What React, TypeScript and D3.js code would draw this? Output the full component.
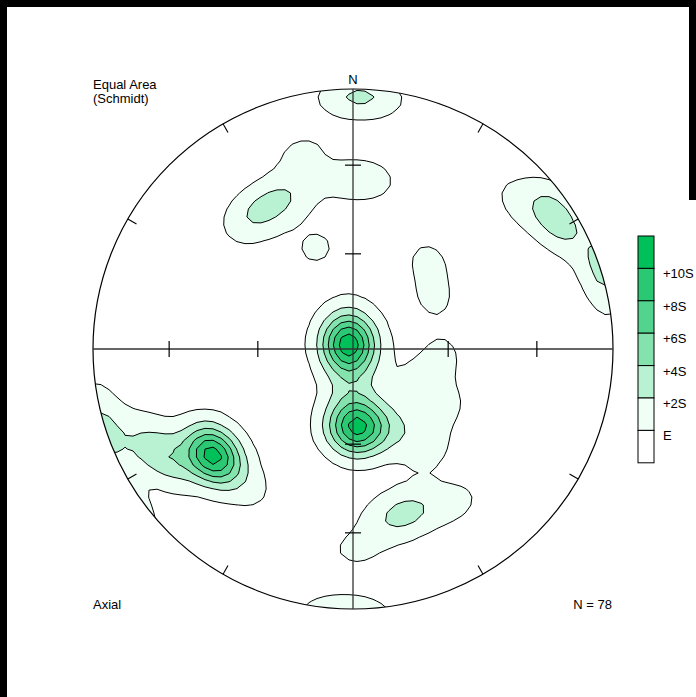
import React, { useMemo } from "react";
import * as d3 from "d3";

// Axial orientation data: trend and plunge of each line (degrees)
const TREND = [
  0.5, 1.6, 2.7,
  320.5, 324.9, 329.1, 334.5, 339.6, 345.5, 357.3, 6.8,
  339.9,
  40.1, 57.8,
  55.7, 57.5, 56.1, 58.0, 48.5,
  70.0, 72.4, 75.2,
  247.2, 244.7, 241.9, 239.4, 236.6, 239.4,
  232.9, 234.5, 231.3, 232.0, 233.6, 233.8, 232.0, 230.6, 235.5, 230.0, 233.3, 217.1,
  296.6, 331.4, 198.4, 337.6, 350.5, 263.7, 185.4, 4.4, 308.7, 233.1, 180.0, 309.8, 350.2,
  184.4,
  177.8, 182.3, 173.7, 180.0, 175.2, 184.2, 170.3, 177.4, 186.3, 169.1, 179.0, 174.1, 152.8, 146.2,
  94.5, 118.4, 121.1, 143.0,
  169.2, 164.9, 160.9, 156.9, 179.1, 146.0,
];
const PLUNGE = [
  3.5, 3.0, 3.8,
  35.5, 36.6, 36.5, 36.7, 35.1, 22.8, 35.2, 34.9,
  56.0,
  53.1, 59.8,
  10.1, 9.2, 6.1, 6.3, 16.4,
  0.1, 0.8, 0.6,
  8.6, 13.0, 17.0, 20.2, 24.1, 17.2,
  33.4, 32.9, 33.9, 31.8, 35.3, 31.0, 35.3, 32.0, 33.8, 34.6, 29.3, 33.4,
  88.6, 86.1, 88.0, 84.3, 88.1, 87.2, 83.4, 85.9, 86.0, 88.4, 89.7, 87.6, 80.8,
  77.8,
  65.5, 66.4, 64.4, 63.3, 67.7, 64.5, 65.8, 62.0, 67.3, 63.4, 72.5, 65.7, 63.1, 57.7,
  61.9, 68.3, 55.6, 49.8,
  32.8, 33.9, 34.4, 34.7, 23.7, 29.3,
];

// Contour levels: expected count E plus multiples of sigma
const LEVEL_LABELS = ["E", "+2S", "+4S", "+6S", "+8S", "+10S"];
const LEVEL_COLORS = ["#f0fff6", "#b9f1d3", "#84e2ad", "#52d48e", "#2ac872", "#00c05a"];

const W = 696;
const H = 697;
const CX = 353;
const CY = 349;
const R = 260;
const KAPPA = 100; // concentration of the counting kernel
const AREA = 0.01; // counting area as a fraction of the hemisphere
const STEP = 8;
const NX = 70;

const rad = Math.PI / 180;

function unitVector(trend: number, plunge: number): [number, number, number] {
  const t = trend * rad;
  const p = plunge * rad;
  return [Math.cos(p) * Math.sin(t), Math.cos(p) * Math.cos(t), Math.sin(p)];
}

export default function App() {
  const { paths } = useMemo(() => {
    const n = TREND.length;
    const E = n * AREA;
    const S = Math.sqrt(n * AREA * (1 - AREA));
    const levels = LEVEL_LABELS.map((_, i) => E + 2 * i * S);
    const vecs = TREND.map((t, i) => unitVector(t, PLUNGE[i]));

    const half = ((NX - 1) * STEP) / 2;
    const x0 = CX - half;
    const y0 = CY - half;
    const values: number[] = new Array(NX * NX);
    for (let j = 0; j < NX; j++) {
      for (let i = 0; i < NX; i++) {
        const dx = (x0 + i * STEP - CX) / R;
        const dy = (CY - (y0 + j * STEP)) / R;
        const h = Math.hypot(dx, dy);
        const r = Math.min(h, Math.SQRT2 - 1e-9);
        const th = 2 * Math.asin(r / Math.SQRT2);
        const s = Math.sin(th);
        const ex = h > 0 ? (s * dx) / h : 0;
        const ny = h > 0 ? (s * dy) / h : 0;
        const dn = Math.cos(th);
        let sum = 0;
        for (const v of vecs) {
          const c = Math.abs(ex * v[0] + ny * v[1] + dn * v[2]);
          sum += Math.exp(KAPPA * (c - 1));
        }
        values[j * NX + i] = sum;
      }
    }

    const contours = d3.contours().size([NX, NX]).smooth(true).thresholds(levels)(values);
    const proj = d3.geoTransform({
      point: function (x: number, y: number) {
        (this as any).stream.point(x0 + (x - 0.5) * STEP, y0 + (y - 0.5) * STEP);
      },
    });
    const path = d3.geoPath(proj);
    return { paths: contours.map((c) => path(c as any) || "") };
  }, []);

  // Equal-area radius for a given angle from the centre
  const eqArea = (deg: number) => R * Math.SQRT2 * Math.sin((deg * rad) / 2);
  const axisTicks = [30, 60].map(eqArea);
  const rimTicks = d3.range(30, 360, 30).filter((a) => a % 90 !== 0);

  const legendX = 638;
  const legendTop = 236;
  const bandH = 32.4;
  const bands = [...LEVEL_COLORS].reverse().concat(["#ffffff"]);

  const font = "'Liberation Sans', Arial, sans-serif";

  return (
    <svg
      width={W}
      height={H}
      style={{ position: "absolute", left: 0, top: 0, background: "#fff" }}
      fontFamily={font}
    >
      <defs>
        <clipPath id="net">
          <circle cx={CX} cy={CY} r={R} />
        </clipPath>
      </defs>
      <rect x={0} y={0} width={W} height={H} fill="#fff" />

      <g clipPath="url(#net)">
        {paths.map((d, i) => (
          <path key={i} d={d} fill={LEVEL_COLORS[i]} stroke="#000" strokeWidth={1} strokeLinejoin="round" />
        ))}
      </g>

      <circle cx={CX} cy={CY} r={R} fill="none" stroke="#000" strokeWidth={1.2} />

      {/* crosshair */}
      <line x1={CX - R} x2={CX + R} y1={CY} y2={CY} stroke="#333" strokeWidth={1.3} />
      <line x1={CX} x2={CX} y1={CY - R} y2={CY + R} stroke="#333" strokeWidth={1.3} />
      {axisTicks.map((d) => (
        <g key={d} stroke="#000" strokeWidth={1.2}>
          <line x1={CX - d} x2={CX - d} y1={CY - 8} y2={CY + 8} />
          <line x1={CX + d} x2={CX + d} y1={CY - 8} y2={CY + 8} />
          <line x1={CX - 8} x2={CX + 8} y1={CY - d} y2={CY - d} />
          <line x1={CX - 8} x2={CX + 8} y1={CY + d} y2={CY + d} />
        </g>
      ))}
      {rimTicks.map((a) => {
        const s = Math.sin(a * rad);
        const c = Math.cos(a * rad);
        return (
          <line
            key={a}
            x1={CX + R * s}
            y1={CY - R * c}
            x2={CX + (R - 10) * s}
            y2={CY - (R - 10) * c}
            stroke="#000"
            strokeWidth={1.1}
          />
        );
      })}

      <text x={CX} y={84} fontSize={13} textAnchor="middle">N</text>
      <text x={93} y={89} fontSize={13}>Equal Area</text>
      <text x={93} y={103} fontSize={13}>(Schmidt)</text>
      <text x={93} y={609} fontSize={13}>Axial</text>
      <text x={612} y={609} fontSize={13} textAnchor="end">{`N = ${TREND.length}`}</text>

      {/* legend */}
      {bands.map((c, i) => (
        <rect
          key={i}
          x={legendX}
          y={legendTop + i * bandH}
          width={16}
          height={bandH}
          fill={c}
          stroke="#000"
          strokeWidth={1}
        />
      ))}
      {[...LEVEL_LABELS].reverse().map((t, i) => (
        <text key={t} x={663} y={legendTop + (i + 1) * bandH + 10} fontSize={13}>
          {t}
        </text>
      ))}

      {/* frame */}
      <rect x={0} y={0} width={W} height={7} fill="#000" />
      <rect x={0} y={0} width={7} height={H} fill="#000" />
      <rect x={689} y={0} width={7} height={200} fill="#000" />
    </svg>
  );
}
